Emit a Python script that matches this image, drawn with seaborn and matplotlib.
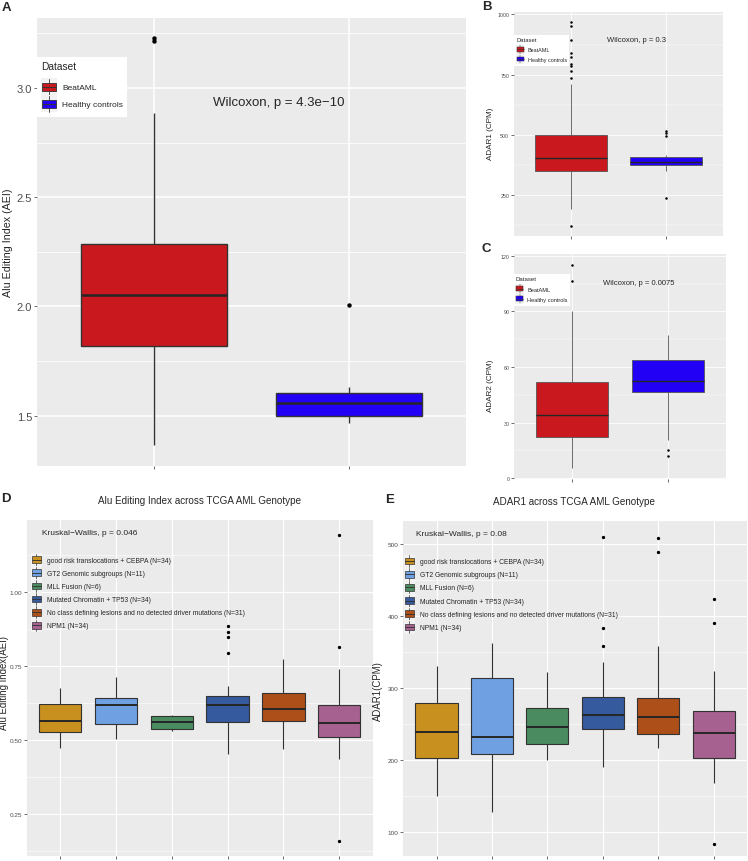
import numpy as np
import pandas as pd
import matplotlib
matplotlib.use("Agg")
import matplotlib.pyplot as plt
import seaborn as sns
from matplotlib.patches import Patch, Rectangle
from matplotlib.lines import Line2D
from matplotlib.legend_handler import HandlerBase
from matplotlib.ticker import MultipleLocator, FormatStrFormatter

# ---------------- data ----------------
# Panel A: Alu Editing Index, BeatAML vs healthy controls
A_groups = ["BeatAML", "Healthy controls"]
A_lo = [1.366, 1.466]
A_q1 = [1.821, 1.500]
A_med = [2.052, 1.557]
A_q3 = [2.286, 1.603]
A_hi = [2.885, 1.633]
A_out_group = ["BeatAML", "BeatAML", "Healthy controls"]
A_out_value = [3.229, 3.215, 2.006]
A_yticks = [1.5, 2.0, 2.5, 3.0]
A_stat = "Wilcoxon, p = 4.3e\u221210"

# Panel B: ADAR1 (CPM)
B_lo = [193, 352]
B_q1 = [350, 374]
B_med = [403, 386]
B_q3 = [500, 407]
B_hi = [710, 418]
B_out_group = ["BeatAML"] * 10 + ["Healthy controls"] * 4
B_out_value = [968, 952, 892, 841, 822, 793, 787, 764, 735, 124, 518, 507, 494, 239]
B_yticks = [250, 500, 750, 1000]
B_stat = "Wilcoxon, p = 0.3"

# Panel C: ADAR2 (CPM)
C_lo = [5.8, 20.7]
C_q1 = [22.3, 46.5]
C_med = [34.4, 52.3]
C_q3 = [51.7, 63.6]
C_hi = [90.0, 77.4]
C_out_group = ["BeatAML", "BeatAML", "Healthy controls", "Healthy controls"]
C_out_value = [115.3, 106.5, 15.1, 12.0]
C_yticks = [0, 30, 60, 90, 120]
C_stat = "Wilcoxon, p = 0.0075"

# Panels D/E: TCGA AML genotype groups
G_groups = [
    "good risk translocations + CEBPA (N=34)",
    "GT2 Genomic subgroups (N=11)",
    "MLL Fusion (N=6)",
    "Mutated Chromatin + TP53 (N=34)",
    "No class defining lesions and no detected driver mutations (N=31)",
    "NPM1 (N=34)",
]
G_colors = ["#C8901F", "#6EA0E2", "#4A8B5F", "#365A9E", "#AD4F19", "#A66190"]

# Panel D: Alu Editing Index per genotype
D_lo = [0.475, 0.503, 0.532, 0.453, 0.471, 0.436]
D_q1 = [0.528, 0.554, 0.537, 0.562, 0.565, 0.511]
D_med = [0.564, 0.620, 0.560, 0.620, 0.604, 0.559]
D_q3 = [0.622, 0.642, 0.582, 0.649, 0.661, 0.619]
D_hi = [0.675, 0.714, 0.584, 0.684, 0.773, 0.739]
D_out_group = [G_groups[3]] * 4 + [G_groups[5]] * 3
D_out_value = [0.887, 0.867, 0.848, 0.796, 1.194, 0.815, 0.159]
D_yticks = [0.25, 0.50, 0.75, 1.00]
D_stat = "Kruskal\u2212Wallis, p = 0.046"
D_title = "Alu Editing Index across TCGA AML Genotype"

# Panel E: ADAR1 per genotype
E_lo = [149.3, 127.4, 199.5, 190.2, 216.7, 167.0]
E_q1 = [202.8, 208.4, 221.4, 242.3, 235.3, 202.8]
E_med = [238.0, 232.0, 246.0, 261.9, 260.0, 237.2]
E_q3 = [278.6, 314.0, 271.6, 287.4, 286.0, 267.4]
E_hi = [330.0, 362.8, 321.4, 335.8, 357.7, 323.3]
E_out_group = [G_groups[3]] * 3 + [G_groups[4]] * 2 + [G_groups[5]] * 3
E_out_value = [510.0, 383.3, 358.1, 508.3, 488.5, 423.0, 390.2, 83.3]
E_yticks = [100, 200, 300, 400, 500]
E_stat = "Kruskal\u2212Wallis, p = 0.08"
E_title = "ADAR1 across TCGA AML Genotype"

DS_colors = ["#C9191E", "#2200F5"]

# ---------------- style ----------------
sns.set_theme(style="darkgrid", rc={
    "axes.facecolor": "#EBEBEB",
    "grid.color": "white",
    "xtick.bottom": True,
    "ytick.left": True,
})
plt.rcParams["font.family"] = ["Liberation Sans", "DejaVu Sans"]

W, H = 748, 862
fig = plt.figure(figsize=(W / 100, H / 100), dpi=100)
fig.patch.set_facecolor("white")


def fx(x):
    return x / W


def fy(y):
    return 1 - y / H


def add_ax(l, t, r, b):
    return fig.add_axes([fx(l), fy(b), (r - l) / W, (b - t) / H])


def five_num_frame(groups, lo, q1, med, q3, hi):
    rows = []
    for g, a, b, c, d, e in zip(groups, lo, q1, med, q3, hi):
        for v in (a, b, c, d, e):
            rows.append((g, v))
    return pd.DataFrame(rows, columns=["group", "value"])


class BoxKey(HandlerBase):
    def __init__(self, lw=0.6, bg="#F2F2F2", lc="#333333"):
        super().__init__()
        self.lw, self.bg, self.lc = lw, bg, lc

    def create_artists(self, legend, orig_handle, xd, yd, w, h, fs, trans):
        x0, y0 = -xd, -yd
        arts = []
        if self.bg:
            arts.append(Rectangle((x0, y0), w, h, facecolor=self.bg, edgecolor="none", transform=trans))
        arts.append(Line2D([x0 + w / 2] * 2, [y0 + 0.05 * h, y0 + 0.25 * h], color=self.lc, lw=self.lw, transform=trans))
        arts.append(Line2D([x0 + w / 2] * 2, [y0 + 0.75 * h, y0 + 0.95 * h], color=self.lc, lw=self.lw, transform=trans))
        arts.append(Rectangle((x0 + 0.08 * w, y0 + 0.25 * h), 0.84 * w, 0.5 * h,
                              facecolor=orig_handle.get_facecolor(), edgecolor=self.lc, lw=self.lw, transform=trans))
        arts.append(Line2D([x0 + 0.08 * w, x0 + 0.92 * w], [y0 + 0.5 * h] * 2, color=self.lc, lw=self.lw * 1.3, transform=trans))
        return arts


def draw_panel(ax, groups, lo, q1, med, q3, hi, outg, outv, palette, width, lw, medlw, dot, lc,
               ylim, yticks, minor, fmt, ticksize, gmaj, gmin):
    df = five_num_frame(groups, lo, q1, med, q3, hi)
    sns.boxplot(data=df, x="group", y="value", hue="group", order=groups, hue_order=groups,
                palette=palette, saturation=1, whis=(0, 100), width=width, showfliers=False,
                showcaps=False, linecolor=lc, linewidth=lw,
                medianprops=dict(linewidth=medlw, color="#262626"),
                legend=False, ax=ax)
    od = pd.DataFrame({"group": outg, "value": outv})
    sns.stripplot(data=od, x="group", y="value", order=groups, jitter=False, color="black",
                  size=dot, linewidth=0, ax=ax, zorder=5)
    ax.set_xlim(-0.6, len(groups) - 1 + 0.6)
    ax.set_ylim(*ylim)
    ax.set_yticks(yticks)
    ax.yaxis.set_minor_locator(MultipleLocator(minor))
    ax.yaxis.set_major_formatter(FormatStrFormatter(fmt))
    ax.set_xlabel("")
    ax.set_ylabel("")
    ax.tick_params(axis="x", labelbottom=False)
    ax.tick_params(which="major", length=2.2, width=0.5, color="#333333", labelcolor="#4D4D4D",
                   labelsize=ticksize, pad=1.2)
    ax.tick_params(which="minor", length=0)
    ax.grid(which="major", color="white", lw=gmaj)
    ax.grid(which="minor", axis="y", color="white", lw=gmin)
    for s in ax.spines.values():
        s.set_visible(False)


def add_legend(ax, labels, colors, anchor, fontsize, title, titlesize, hl, hh, lw, frame, pad, tpad, tsep=0):
    handles = [Patch(facecolor=c) for c in colors]
    leg = ax.legend(handles, labels, loc="upper left", bbox_to_anchor=(fx(anchor[0]), fy(anchor[1])),
                    bbox_transform=fig.transFigure, borderaxespad=0, fontsize=fontsize,
                    title=title, title_fontsize=titlesize, handlelength=hl, handleheight=hh,
                    labelspacing=0.0, handletextpad=tpad, borderpad=pad, frameon=frame,
                    fancybox=False, alignment="left",
                    handler_map={Patch: BoxKey(lw=lw, bg="#F2F2F2")})
    leg._legend_box.sep = tsep
    if frame:
        leg.get_frame().set_facecolor("white")
        leg.get_frame().set_edgecolor("none")
        leg.get_frame().set_alpha(1)
    return leg


# ---------- Panel A ----------
axA = add_ax(37, 19, 466, 467)
draw_panel(axA, A_groups, A_lo, A_q1, A_med, A_q3, A_hi, A_out_group, A_out_value, DS_colors,
           0.75, 1.0, 1.8, 3.2, "#333333", (1.27, 3.32), A_yticks, 0.25, "%.1f", 8, 1.1, 0.55)
add_legend(axA, A_groups, DS_colors, (37, 58), 6.0, "Dataset", 7.3, 1.9, 2.76, 0.6, True, 0.5, 0.6, 5.2)
fig.text(fx(279), fy(103), A_stat, ha="center", va="center", fontsize=9.5)
fig.text(fx(8), fy(243), "Alu Editing Index (AEI)", rotation=90, ha="center", va="center", fontsize=7.7)

# ---------- Panel B ----------
axB = add_ax(514, 13, 723, 237)
draw_panel(axB, A_groups, B_lo, B_q1, B_med, B_q3, B_hi, B_out_group, B_out_value, DS_colors,
           0.75, 0.6, 1.0, 1.8, "#555555", (81, 1010), B_yticks, 125, "%d", 3.8, 0.6, 0.35)
add_legend(axB, A_groups, DS_colors, (514, 36), 3.9, "Dataset", 4.2, 1.5, 2.35, 0.35, True, 0.4, 0.6, 1.8)
fig.text(fx(636.5), fy(41), B_stat, ha="center", va="center", fontsize=5.5)
fig.text(fx(490.5), fy(133.5), "ADAR1 (CPM)", rotation=90, ha="center", va="center", fontsize=5.9)

# ---------- Panel C ----------
axC = add_ax(514, 255, 726, 480)
draw_panel(axC, A_groups, C_lo, C_q1, C_med, C_q3, C_hi, C_out_group, C_out_value, DS_colors,
           0.75, 0.6, 1.0, 1.8, "#555555", (-0.4, 121), C_yticks, 15, "%d", 3.8, 0.6, 0.35)
add_legend(axC, A_groups, DS_colors, (513, 275), 4.1, "Dataset", 4.3, 1.5, 2.35, 0.35, True, 0.4, 0.6, 1.8)
fig.text(fx(638.8), fy(283.7), C_stat, ha="center", va="center", fontsize=5.5)
fig.text(fx(490.5), fy(386), "ADAR2 (CPM)", rotation=90, ha="center", va="center", fontsize=5.9)

# ---------- Panel D ----------
axD = add_ax(26.7, 521, 372.7, 857)
draw_panel(axD, G_groups, D_lo, D_q1, D_med, D_q3, D_hi, D_out_group, D_out_value, G_colors,
           0.76, 0.8, 1.4, 2.4, "#333333", (0.109, 1.244), D_yticks, 0.125, "%.2f", 4.6, 0.8, 0.4)
add_legend(axD, G_groups, G_colors, (31, 554), 4.9, None, 4.9, 1.6, 2.6, 0.5, False, 0.0, 0.8)
fig.text(fx(41.7), fy(533.3), D_stat, ha="left", va="center", fontsize=6)
fig.text(fx(200), fy(500.7), D_title, ha="center", va="center", fontsize=7.1)
fig.text(fx(3.8), fy(683), "Alu Editing Index(AEI)", rotation=90, ha="center", va="center", fontsize=6.9)

# ---------- Panel E ----------
axE = add_ax(403.3, 522.3, 747, 857)
draw_panel(axE, G_groups, E_lo, E_q1, E_med, E_q3, E_hi, E_out_group, E_out_value, G_colors,
           0.76, 0.8, 1.4, 2.4, "#333333", (66, 531.6), E_yticks, 50, "%d", 4.6, 0.8, 0.4)
add_legend(axE, G_groups, G_colors, (404, 555.5), 4.9, None, 4.9, 1.6, 2.6, 0.5, False, 0.0, 0.8)
fig.text(fx(415.7), fy(535), E_stat, ha="left", va="center", fontsize=6)
fig.text(fx(574), fy(502), E_title, ha="center", va="center", fontsize=7.1)
fig.text(fx(377.8), fy(691), "ADAR1(CPM)", rotation=90, ha="center", va="center", fontsize=6.9)

# ---------- panel letters ----------
for lab, (x, y) in zip("ABCDE", [(6, 8), (486.5, 7), (486.7, 249.5), (6, 499.5), (389.5, 500)]):
    fig.text(fx(x), fy(y), lab, ha="center", va="center", fontsize=9.5, fontweight="bold")

fig.savefig("out.png", dpi=100, facecolor="white")
